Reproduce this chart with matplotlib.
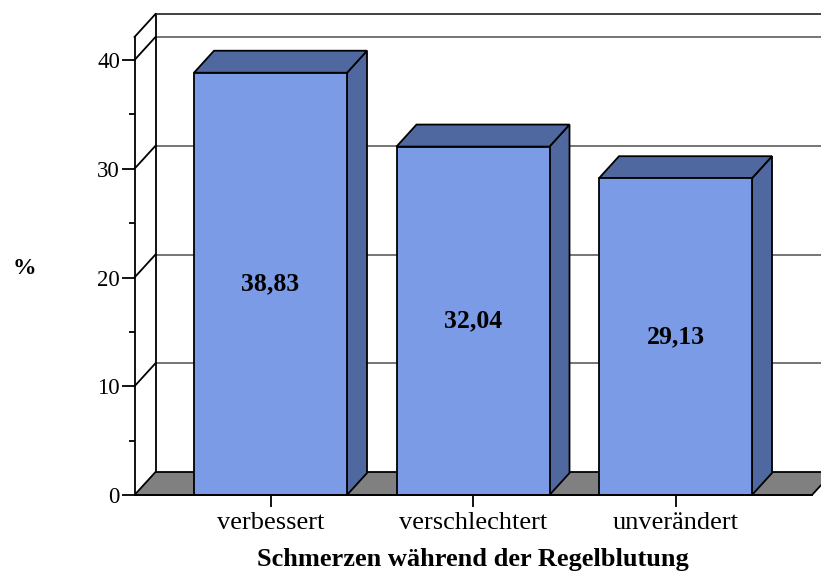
import matplotlib
matplotlib.use("Agg")
import matplotlib.pyplot as plt
from matplotlib.patches import Polygon, Rectangle
from matplotlib.lines import Line2D

# Data
categories = ["verbessert", "verschlechtert", "unverändert"]
percent = [38.83, 32.04, 29.13]
value_labels = ["38,83", "32,04", "29,13"]
yticks = [0, 10, 20, 30, 40]
yminor = [5, 15, 25, 35]

plt.rcParams["font.family"] = ["Liberation Serif", "DejaVu Serif"]

FRONT = "#7b9be6"
SHADE = "#5068a0"
FLOOR = "#808080"
GRID = "#6a6a6a"
LW = 1.3

fig = plt.figure(figsize=(8.21, 5.72), dpi=100)
ax = fig.add_axes([134.5 / 821, 77 / 572, (812 - 134.5) / 821, (495 - 37) / 572])

x0, x1 = -0.6716, 2.674
DX, DY = 21 / 202.5, 23 / 10.875       # depth offset of the 3-D box
ytop = 40 + DY
ax.set_xlim(x0, x1)
ax.set_ylim(0, ytop)

# back wall and left wall
ax.add_line(Line2D([x0 + DX, x0 + DX], [DY, ytop + DY], color="black", lw=LW, clip_on=False, zorder=2))
ax.add_line(Line2D([x0 + DX, x1 + DX + 0.2], [ytop + DY, ytop + DY], color="#333333", lw=LW, clip_on=False, zorder=2))
ax.add_line(Line2D([x0, x0 + DX], [ytop, ytop + DY], color="black", lw=LW, clip_on=False, zorder=2))
for v in yticks[1:]:
    ax.add_line(Line2D([x0 + DX, x1 + DX + 0.2], [v + DY, v + DY], color=GRID, lw=LW, clip_on=False, zorder=1))
    ax.add_line(Line2D([x0, x0 + DX], [v, v + DY], color="black", lw=LW, clip_on=False, zorder=2))

# floor
ax.add_patch(Polygon([(x0, 0), (x1, 0), (x1 + DX, DY), (x0 + DX, DY)], closed=True,
                     facecolor=FLOOR, edgecolor="black", lw=LW, clip_on=False, zorder=2))

# bars
w = 153 / 202.5
bdx, bdy = 20 / 202.5, 22 / 10.875
for i, (v, lab) in enumerate(zip(percent, value_labels)):
    l, r = i - w / 2, i + w / 2
    ax.add_patch(Polygon([(r, 0), (r + bdx, bdy), (r + bdx, v + bdy), (r, v)], closed=True,
                         facecolor=SHADE, edgecolor="black", lw=LW, clip_on=False, zorder=3))
    ax.add_patch(Polygon([(l, v), (r, v), (r + bdx, v + bdy), (l + bdx, v + bdy)], closed=True,
                         facecolor=SHADE, edgecolor="black", lw=LW, clip_on=False, zorder=3))
    ax.add_patch(Rectangle((l, 0), w, v, facecolor=FRONT, edgecolor="black", lw=LW,
                           clip_on=False, zorder=4))
    ax.text(i, v / 2, lab, ha="center", va="center", fontsize=18.5, fontweight="bold", zorder=5)

# axes
for s in ("top", "right"):
    ax.spines[s].set_visible(False)
for s in ("left", "bottom"):
    ax.spines[s].set_linewidth(LW)
    ax.spines[s].set_zorder(6)
ax.set_yticks(yticks)
ax.set_yticks(yminor, minor=True)
ax.set_yticklabels([str(t) for t in yticks], fontsize=16.5)
ax.tick_params(axis="y", which="major", direction="out", length=9.5, width=LW, pad=1)
ax.tick_params(axis="y", which="minor", direction="out", length=4, width=LW)
ax.set_xticks(range(len(categories)))
ax.set_xticklabels(categories, fontsize=19)
ax.tick_params(axis="x", direction="out", length=8.5, width=LW, pad=4)
ax.set_xlabel("Schmerzen während der Regelblutung", fontsize=19, fontweight="bold", labelpad=10)
fig.text(24 / 821, 1 - 268 / 572, "%", fontsize=17, fontweight="bold", ha="center", va="center")

fig.savefig("out.png", dpi=100)
